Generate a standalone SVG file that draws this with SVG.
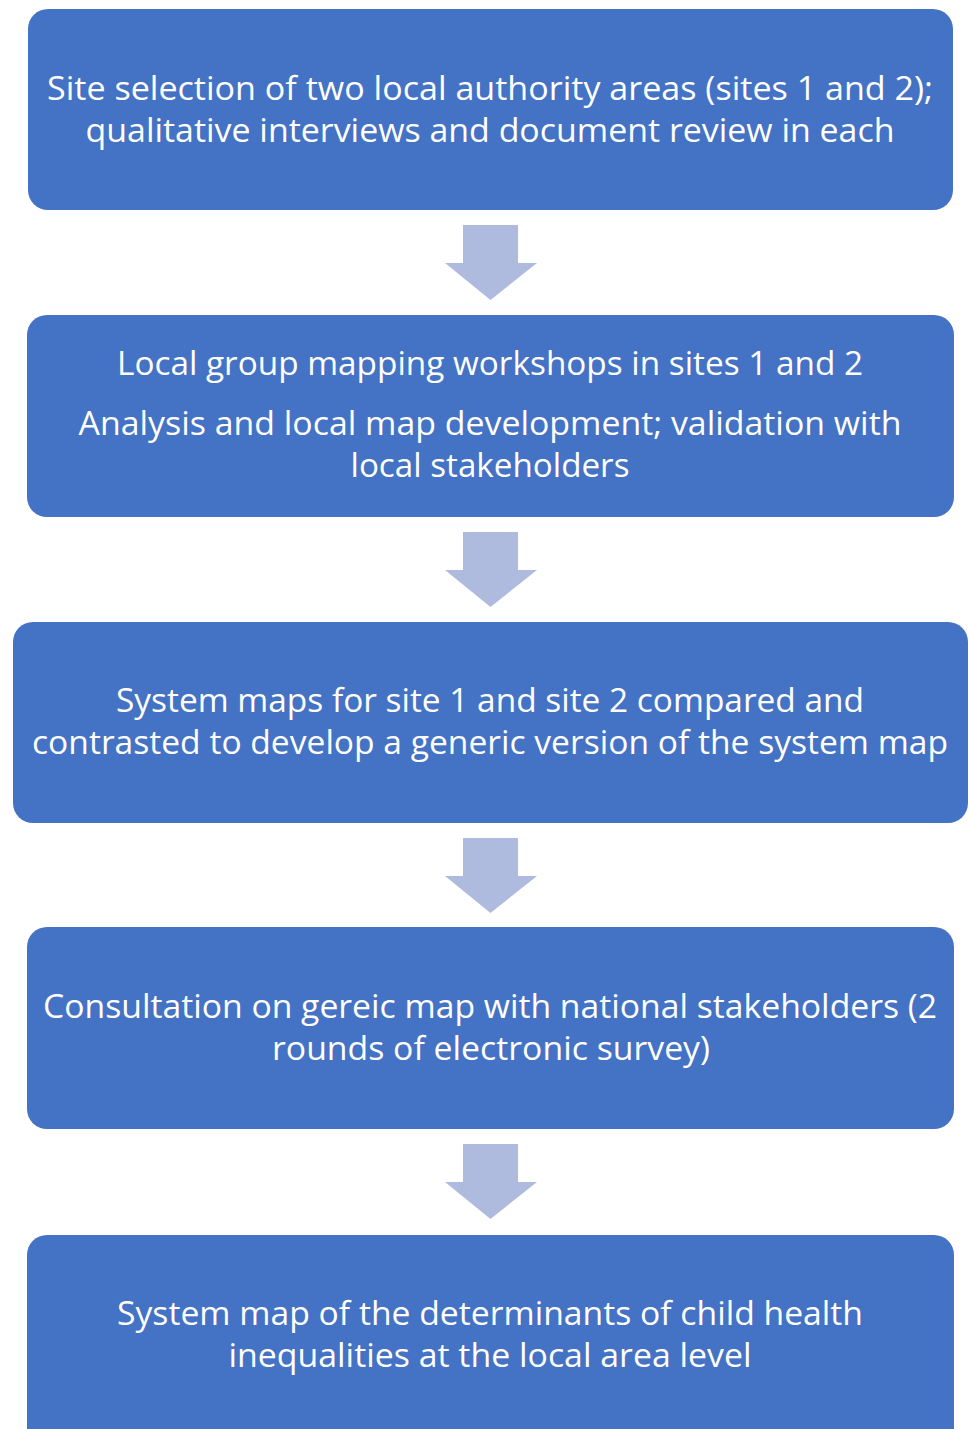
<svg xmlns="http://www.w3.org/2000/svg" width="969" height="1429" viewBox="0 0 969 1429">
<style>
.box{fill:#4472C4;}
.arr{fill:#AFBBDE;}
.t{font-family:"Open Sans","Liberation Sans",sans-serif;font-size:33px;fill:#FFFFFF;text-anchor:middle;}
</style>
<rect width="969" height="1429" fill="#FFFFFF"/>
<g id="connectors">
<polygon class="arr" points="463,225 518,225 518,263 537,263 490.5,300 445,263 463,263"/>
<polygon class="arr" points="463,532 518,532 518,570 537,570 490.5,607 445,570 463,570"/>
<polygon class="arr" points="463,838 518,838 518,876 537,876 490.5,913 445,876 463,876"/>
<polygon class="arr" points="463,1144 518,1144 518,1182 537,1182 490.5,1219 445,1182 463,1182"/>
</g>
<g id="node1">
<rect class="box" x="28" y="9" width="925" height="201" rx="20"/>
<text class="t" x="490" y="100" textLength="886" lengthAdjust="spacingAndGlyphs">Site selection of two local authority areas (sites 1 and 2);</text>
<text class="t" x="490" y="142" textLength="809" lengthAdjust="spacingAndGlyphs">qualitative interviews and document review in each</text>
</g>
<g id="node2">
<rect class="box" x="27" y="315" width="927" height="202" rx="20"/>
<text class="t" x="490" y="375" textLength="746" lengthAdjust="spacingAndGlyphs">Local group mapping workshops in sites 1 and 2</text>
<text class="t" x="490" y="435" textLength="823" lengthAdjust="spacingAndGlyphs">Analysis and local map development; validation with</text>
<text class="t" x="490" y="477" textLength="279" lengthAdjust="spacingAndGlyphs">local stakeholders</text>
</g>
<g id="node3">
<rect class="box" x="13" y="622" width="955" height="201" rx="20"/>
<text class="t" x="490" y="712" textLength="748" lengthAdjust="spacingAndGlyphs">System maps for site 1 and site 2 compared and</text>
<text class="t" x="490" y="754" textLength="916" lengthAdjust="spacingAndGlyphs">contrasted to develop a generic version of the system map</text>
</g>
<g id="node4">
<rect class="box" x="27" y="927" width="927" height="202" rx="20"/>
<text class="t" x="490" y="1018" textLength="894" lengthAdjust="spacingAndGlyphs">Consultation on gereic map with national stakeholders (2</text>
<text class="t" x="491" y="1060" textLength="438" lengthAdjust="spacingAndGlyphs">rounds of electronic survey)</text>
</g>
<g id="node5">
<rect class="box" x="27" y="1235" width="927" height="220" rx="20"/>
<text class="t" x="490" y="1325" textLength="746" lengthAdjust="spacingAndGlyphs">System map of the determinants of child health</text>
<text class="t" x="490" y="1367" textLength="523" lengthAdjust="spacingAndGlyphs">inequalities at the local area level</text>
</g>
</svg>
